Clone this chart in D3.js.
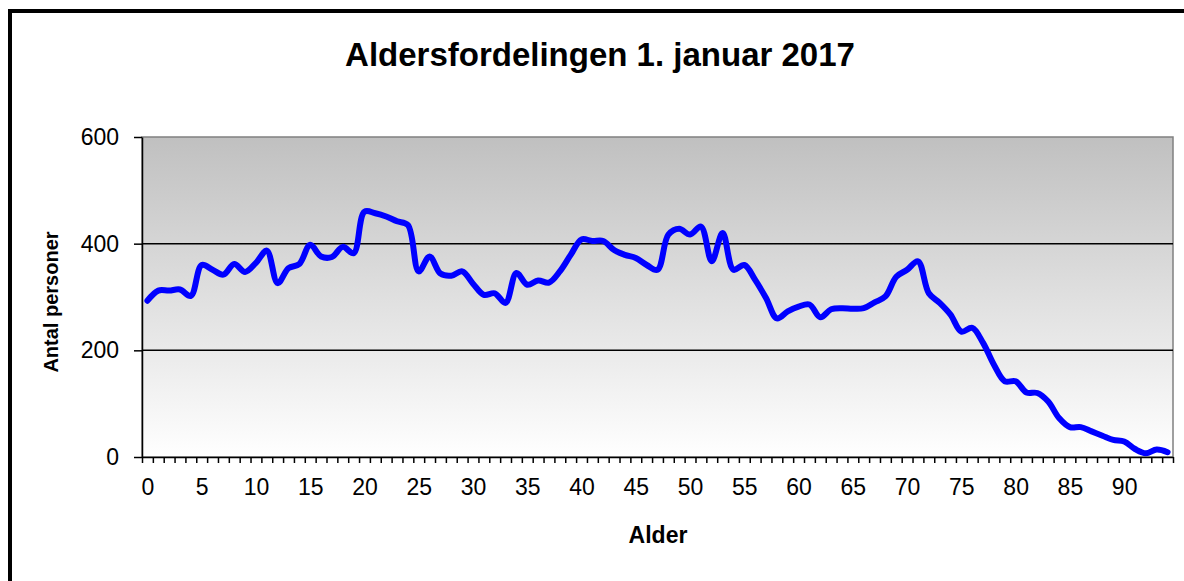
<!DOCTYPE html>
<html>
<head>
<meta charset="utf-8">
<script src="https://d3js.org/d3.v7.min.js"></script>
<style>
  body { margin: 0; background: #fff; }
  text { font-family: "Liberation Sans", Arial, sans-serif; }
</style>
</head>
<body>
<script>
    // alder 0..94, antal personer pr. alder (aflæst af figuren)
    var ages = d3.range(0, 95);
    var persons = [
        293, 312, 312, 314, 302, 360, 351, 342, 362, 347,
        364, 387, 326, 354, 362, 398, 376, 375, 394, 382,
        460, 457, 451, 442, 435, 348, 376, 344, 340, 348,
        325, 304, 307, 289, 345, 323, 331, 327, 348, 379,
        408, 405, 405, 388, 379, 373, 360, 351, 417, 428,
        417, 432, 367, 420, 351, 360, 332, 298, 260, 273,
        282, 286, 262, 277, 279, 278, 279, 290, 301, 338,
        351, 367, 307, 289, 267, 235, 242, 214, 173, 142,
        142, 121, 120, 104, 73, 56, 56, 48, 40, 32,
        29, 15, 7, 14, 9
    ];
    var yTicks = [0, 200, 400, 600];
    var xLabels = ages.filter(function(d) { return d % 5 == 0; });

    var width = 1184;
    var height = 581;
    var plotLeft = 142, plotRight = 1173, plotTop = 137, plotBottom = 457;

    var svg = d3.select("body").append("svg")
        .attr("width", width)
        .attr("height", height);

    // ramme rundt om diagrammet
    svg.append("rect")
        .attr("x", 10).attr("y", 11)
        .attr("width", 1400).attr("height", 800)
        .style("fill", "#fff")
        .style("stroke", "#000")
        .style("stroke-width", 4);

    var defs = svg.append("defs");
    var grad = defs.append("linearGradient")
        .attr("id", "bg")
        .attr("x1", 0).attr("y1", 0).attr("x2", 0).attr("y2", 1);
    grad.append("stop").attr("offset", "0%").attr("stop-color", "#c0c0c0");
    grad.append("stop").attr("offset", "100%").attr("stop-color", "#ffffff");

    var x = d3.scalePoint()
        .domain(ages)
        .range([plotLeft, plotRight])
        .padding(0.5);
    var xb = d3.scaleLinear()
        .domain([0, ages.length])
        .range([plotLeft, plotRight]);
    var y = d3.scaleLinear()
        .domain([0, 600])
        .range([plotBottom, plotTop]);

    svg.append("rect")
        .attr("x", plotLeft).attr("y", plotTop)
        .attr("width", plotRight - plotLeft).attr("height", plotBottom - plotTop)
        .style("fill", "url(#bg)")
        .style("stroke", "#808080")
        .style("stroke-width", 1.5);

    // gitterlinjer
    svg.selectAll("line.grid")
        .data(yTicks.filter(function(d) { return d > 0 && d < 600; }))
        .enter().append("line")
        .attr("class", "grid")
        .attr("x1", plotLeft).attr("x2", plotRight)
        .attr("y1", function(d) { return y(d); })
        .attr("y2", function(d) { return y(d); })
        .style("stroke", "#000")
        .style("stroke-width", 1.5);

    var yAxis = svg.append("g")
        .attr("transform", "translate(" + plotLeft + ",0)")
        .call(d3.axisLeft(y).tickValues(yTicks).tickSize(8).tickPadding(15).tickSizeOuter(0));

    var xTickAxis = svg.append("g")
        .attr("transform", "translate(0," + plotBottom + ")")
        .call(d3.axisBottom(xb).tickValues(d3.range(0, ages.length + 1)).tickSize(6).tickFormat("").tickSizeOuter(0));

    var xAxis = svg.append("g")
        .attr("transform", "translate(0," + plotBottom + ")")
        .call(d3.axisBottom(x).tickValues(xLabels).tickSize(0).tickPadding(22));
    xAxis.select(".domain").remove();

    svg.selectAll(".tick text")
        .style("font-family", "Liberation Sans, Arial, sans-serif")
        .style("font-size", "23px")
        .style("fill", "#000");
    svg.selectAll(".domain, .tick line")
        .style("stroke", "#000")
        .style("stroke-width", 1.5);

    var line = d3.line()
        .x(function(d, i) { return x(ages[i]); })
        .y(function(d) { return y(d); })
        .curve(d3.curveCatmullRom.alpha(0.5));

    svg.append("path")
        .datum(persons)
        .attr("d", line)
        .style("fill", "none")
        .style("stroke", "#0000ff")
        .style("stroke-width", 6)
        .style("stroke-linejoin", "round")
        .style("stroke-linecap", "round");

    svg.append("text")
        .attr("x", 600).attr("y", 66)
        .attr("text-anchor", "middle")
        .style("font-size", "33px")
        .style("font-weight", "bold")
        .text("Aldersfordelingen 1. januar 2017");

    svg.append("text")
        .attr("transform", "translate(51,302) rotate(-90)")
        .attr("text-anchor", "middle")
        .attr("dy", "0.35em")
        .style("font-size", "20px")
        .style("font-weight", "bold")
        .text("Antal personer");

    svg.append("text")
        .attr("x", 658).attr("y", 543)
        .attr("text-anchor", "middle")
        .style("font-size", "23px")
        .style("font-weight", "bold")
        .text("Alder");
</script>
</body>
</html>
